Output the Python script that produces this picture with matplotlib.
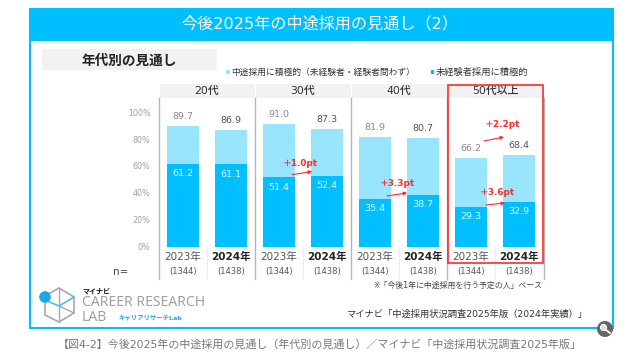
import matplotlib
matplotlib.use("Agg")
import matplotlib.pyplot as plt
import matplotlib.patches as mpatches

plt.rcParams['font.family'] = ['DejaVu Sans', 'Noto Sans CJK JP']

groups = ["20代", "30代", "40代", "50代以上"]
years = ["2023年", "2024年"] * 4
counts = ["(1344)", "(1438)"] * 4
total = [89.7, 86.9, 91.0, 87.3, 81.9, 80.7, 66.2, 68.4]
inexperienced = [61.2, 61.1, 51.4, 52.4, 35.4, 38.7, 29.3, 32.9]
yticks = [0, 20, 40, 60, 80, 100]
diff_labels = ["\uff0b1.0pt", "\uff0b3.3pt", "\uff0b3.6pt", "\uff0b2.2pt"]

BLUE = "#00bfff"
LIGHT = "#99e5ff"
GREY = "#f2f2f2"
RED = "#ff2a2a"

W, H = 640, 359
fig = plt.figure(figsize=(W / 100, H / 100), dpi=100, facecolor="white")

# page layer in pixel coordinates
bg = fig.add_axes([0, 0, 1, 1])
bg.set_xlim(0, W)
bg.set_ylim(H, 0)
bg.axis("off")

bg.add_patch(mpatches.Rectangle((30, 9), 582.5, 139 + 180, fc="white", ec=BLUE, lw=1.5))
bg.add_patch(mpatches.Rectangle((29, 8), 584.5, 33, fc=BLUE, ec="none"))
bg.text(320, 23.5, "今後2025年の中途採用の見通し\uff082\uff09", color="white", fontsize=11.6,
        ha="center", va="center")

bg.add_patch(mpatches.Rectangle((42, 49), 175, 21, fc=GREY, ec="none"))
bg.text(129.5, 60.5, "年代別の見通し", color="#222222", fontsize=9.8, fontweight="bold",
        ha="center", va="center")

# legend
bg.add_patch(mpatches.Rectangle((226, 70), 3.5, 3.5, fc=LIGHT, ec="none"))
bg.text(231, 72, "中途採用に積極的\uff08未経験者・経験者問わず\uff09", color="#333333", fontsize=6.3,
        ha="left", va="center")
bg.add_patch(mpatches.Rectangle((430.5, 70), 3.5, 3.5, fc=BLUE, ec="none"))
bg.text(436, 72, "未経験者採用に積極的", color="#333333", fontsize=6.7,
        ha="left", va="center")

# group headers and dividers
for i, g in enumerate(groups):
    x0 = 159 + 96 * i
    bg.add_patch(mpatches.Rectangle((x0 + 0.5, 84), 95, 14, fc=GREY, ec="none"))
    bg.text(x0 + 48, 91, g, color="#333333", fontsize=7.8, fontweight="medium",
            ha="center", va="center")
    bg.plot([x0, x0], [98, 279], color="#b5b5b5", lw=1)
    bg.plot([x0 + 48, x0 + 48], [247, 279], color="#cccccc", lw=0.6, ls=":")
bg.plot([544, 544], [98, 279], color="#b5b5b5", lw=1)

# bars
ax = fig.add_axes([159 / W, 1 - 246.5 / H, 384 / W, 134.3 / H])
ax.patch.set_alpha(0)
xs = list(range(len(total)))
ax.bar(xs, total, width=0.67, color=LIGHT)
ax.bar(xs, inexperienced, width=0.67, color=BLUE)
ax.set_xlim(-0.5, 7.5)
ax.set_ylim(0, 100)
ax.set_xticks([])
ax.set_yticks(yticks)
ax.set_yticklabels([f"{t}%" for t in yticks], color="#a0a0a0", fontsize=5.8)
ax.tick_params(axis="y", length=0, pad=6)
for s in ax.spines.values():
    s.set_visible(False)

for i in xs:
    ax.text(i, total[i] + 7, f"{total[i]:.1f}",
            color="#888888" if i % 2 == 0 else "#555555", fontsize=6.8,
            ha="center", va="center", clip_on=False)
    ax.text(i, inexperienced[i] - 7.2, f"{inexperienced[i]:.1f}", color="#dff6ff", fontsize=6.8,
            ha="center", va="center")

    x_px = 183 + 48 * i
    bg.text(x_px, 256.5, years[i], color="#555555" if i % 2 == 0 else "#222222", fontsize=7.5,
            fontweight="normal" if i % 2 == 0 else "bold", ha="center", va="center")
    bg.text(x_px, 271.5, counts[i], color="#555555", fontsize=6.0, ha="center", va="center")
bg.text(121, 272, "n=", color="#444444", fontsize=7.5, ha="center", va="center")

# change arrows, from the 2023 bar towards the 2024 bar
arrow_style = dict(arrowstyle="-|>", color=RED, lw=0.8, mutation_scale=5, shrinkA=0, shrinkB=0)
ax.annotate("", xy=(2.69, 55.8), xytext=(2.27, 53.5), arrowprops=arrow_style)
ax.annotate("", xy=(4.67, 39.9), xytext=(4.25, 37.6), arrowprops=arrow_style)
ax.annotate("", xy=(6.71, 32.4), xytext=(6.31, 30.9), arrowprops=arrow_style)
ax.annotate("", xy=(6.69, 81.5), xytext=(6.27, 78.6), arrowprops=arrow_style)

label_pos = [(2.44, 62), (4.47, 47), (6.55, 40.5), (6.65, 90.5)]
for (lx, ly), lab in zip(label_pos, diff_labels):
    ax.text(lx, ly, lab, color=RED, fontsize=6.4, fontweight="bold",
            ha="center", va="center", clip_on=False)

# red highlight around the 50s group
bg.add_patch(mpatches.Rectangle((448, 85), 94.7, 178.3, fc="none", ec=RED, lw=1.2, zorder=6))

# notes
bg.text(457.5, 285, "※「今後1年に中途採用を行う予定の人」ベース", color="#444444", fontsize=5.7,
        ha="center", va="center")
bg.text(467, 314, "マイナビ「中途採用状況調査2025年版\uff082024年実績\uff09」", color="#333333", fontsize=6.7,
        ha="center", va="center")

# logo
bg.plot([45, 45, 59, 74, 74, 59, 45], [303, 315, 322, 313, 297, 288, 296], color="#a8a8a8", lw=1.2)
bg.plot([59, 59], [288, 322], color="#a8a8a8", lw=1)
bg.plot([59, 74], [306, 313], color="#a8a8a8", lw=1)
bg.plot([45, 59, 74], [300, 306, 297], color="#55bbe8", lw=1.2)
bg.add_patch(mpatches.Circle((45, 297), 5.8, fc="#1aa7e8", ec="none", zorder=5))
bg.text(82, 291, "マイナビ", color="#111111", fontsize=5, fontweight="bold", va="center")
bg.text(81.5, 306.5, "CAREER RESEARCH", color="#a0a0a0", fontsize=10, family="Noto Sans", va="baseline")
bg.text(81.5, 321, "LAB", color="#a0a0a0", fontsize=10, family="Noto Sans", va="baseline")
bg.text(118, 317, "キャリアリサーチLab", color="#22a8e6", fontsize=4.6, fontweight="bold", va="center")

# caption
bg.text(320, 345, "【図4-2】今後2025年の中途採用の見通し\uff08年代別の見通し\uff09\uff0fマイナビ「中途採用状況調査2025年版」",
        color="#777777", fontsize=7.9, ha="center", va="center")

# magnifier badge
bg.add_patch(mpatches.Circle((605, 329), 8, fc="#666666", ec="none", zorder=7))
bg.add_patch(mpatches.Circle((603.5, 327.5), 3, fc="#dddddd", ec="white", lw=0.8, zorder=8))
bg.plot([606, 610], [330, 333], color="white", lw=1.3, zorder=8)

fig.savefig("out.png", dpi=100)
